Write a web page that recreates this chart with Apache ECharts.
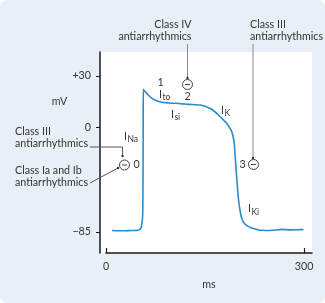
<!DOCTYPE html>
<html>
<head>
<meta charset="utf-8">
<script src="https://cdn.jsdelivr.net/npm/echarts@6/dist/echarts.min.js"></script>
<style>
  html, body { margin: 0; padding: 0; background: #ffffff; }
  #chart { width: 325px; height: 303px; background: #e9eff6; border-radius: 7px; overflow: hidden; }
</style>
</head>
<body>
<div id="chart"></div>
<script>
// ---- data (time in ms, membrane potential in mV) ----
const timeMs = [9, 20, 30, 40, 48, 52, 54, 55.5, 56, 56.3, 56.5, 60, 64, 69, 74.2, 84.4, 95, 104.5, 115, 124.7, 142.4, 150, 157.6, 164, 170.2, 177, 182.9, 187, 190.5, 194, 195.5, 197.7, 200.5, 203, 205.6, 210.6, 218.2, 223.2, 230, 235.9, 248.5, 258, 266.2, 278.8, 290, 299];
const voltageMv = [-84.0, -84.2, -84.1, -84.0, -83.7, -82.8, -79.7, -72, -45, 0, 22.1, 20.5, 18.8, 17.0, 15.9, 14.6, 14.2, 14.0, 13.7, 13.4, 13.0, 12.3, 11.0, 9.4, 7.2, 4.7, 2.3, 0, -3.6, -11.7, -22.6, -38.9, -57.9, -67.5, -74.2, -78.9, -81.3, -82.4, -83.3, -83.8, -84.0, -83.6, -83.0, -83.4, -83.3, -83.2];
const yTickMv = [30, 0, -85];
const yTickLabels = ['+30', '0', '\u221285'];
const xTickMs = [0, 300];
const xTickLabels = ['0', '300'];

// The drawing is schematic: the scale below 0 mV is compressed relative to above 0 mV.
const BELOW_ZERO_FACTOR = 0.7128;
function toAxis(v) { return v >= 0 ? v : v * BELOW_ZERO_FACTOR; }

const seriesData = timeMs.map((t, i) => [t, toAxis(voltageMv[i])]);
const yTickAxis = yTickMv.map(toAxis);

const FONT = 'Lato';
const FS = 10.7;
const TXT = '#333333';
const PTR = '#8a8a8a';

function txt(x, y, s, align, size) {
  return { type: 'text', x: x, y: y, z: 50,
    style: { text: s, fill: TXT, font: (size || FS) + 'px ' + FONT, align: align || 'left', verticalAlign: 'middle' } };
}
function curr(x, y, sub) {
  return [txt(x, y, 'I', 'left', FS), txt(x + 3.4, y + 3, sub, 'left', 8.5)];
}
function blocker(cx, cy) {
  return [
    { type: 'circle', z: 50, shape: { cx: cx, cy: cy, r: 5 }, style: { fill: '#ffffff', stroke: '#444', lineWidth: 1 } },
    { type: 'line', z: 51, shape: { x1: cx - 2.6, y1: cy, x2: cx + 2.6, y2: cy }, style: { stroke: '#444', lineWidth: 1 } }
  ];
}
function dot(x, y) {
  return { type: 'circle', z: 50, shape: { cx: x, cy: y, r: 1.2 }, style: { fill: '#333' } };
}

const chart = echarts.init(document.getElementById('chart'), null, { renderer: 'canvas' });
chart.setOption({
  animation: false,
  textStyle: { fontFamily: FONT },
  grid: { left: 106, right: 13, top: 52, bottom: 50, show: true, backgroundColor: '#ffffff', borderWidth: 0 },
  xAxis: {
    type: 'value', min: 0, max: 312,
    axisLine: { show: true, onZero: false, lineStyle: { color: '#1a1a1a', width: 1.5 } },
    axisTick: { show: true, inside: true, length: 5, customValues: xTickMs, lineStyle: { color: '#1a1a1a', width: 1.2 } },
    axisLabel: { show: true, margin: 8, customValues: xTickMs, color: TXT, fontSize: FS, fontFamily: FONT,
      formatter: v => xTickLabels[xTickMs.indexOf(v)] },
    splitLine: { show: false },
    name: 'ms', nameLocation: 'middle', nameGap: 26,
    nameTextStyle: { color: TXT, fontSize: FS, fontFamily: FONT }
  },
  yAxis: {
    type: 'value', min: -72.9, max: 43.8, offset: 6,
    axisLine: { show: true, onZero: false, lineStyle: { color: '#1a1a1a', width: 1.5 } },
    axisTick: { show: true, inside: false, length: 4, customValues: yTickAxis, lineStyle: { color: '#1a1a1a', width: 1 } },
    axisLabel: { show: true, margin: 9, customValues: yTickAxis, color: TXT, fontSize: FS, fontFamily: FONT,
      padding: [0, 0, 6, 0],
      formatter: v => {
        let best = 0;
        yTickAxis.forEach((a, i) => { if (Math.abs(a - v) < Math.abs(yTickAxis[best] - v)) best = i; });
        return yTickLabels[best];
      } },
    splitLine: { show: false }
  },
  series: [{
    type: 'line', data: seriesData, showSymbol: false, smooth: 0.25,
    lineStyle: { color: '#2a8bcc', width: 1.6 }, z: 5
  }],
  graphic: [].concat(
    [{ type: 'rect', z: 0, shape: { x: 100.8, y: 52, width: 5.7, height: 201 }, style: { fill: '#ffffff' } }],
    [txt(59.5, 101.5, 'mV', 'center')],
    // Class IV (top)
    [txt(191.5, 25, 'Class IV', 'right'), txt(191.5, 37, 'antiarrhythmics', 'right'),
     { type: 'line', z: 40, shape: { x1: 187.5, y1: 44, x2: 187.5, y2: 78 }, style: { stroke: PTR, lineWidth: 1 } },
     dot(187.5, 78)],
    blocker(187.5, 84.5),
    [txt(187.5, 96.5, '2', 'center'), txt(160.5, 83, '1', 'center')],
    curr(159, 94.5, 'to'),
    curr(171, 114.5, 'si'),
    curr(221, 110.5, 'K'),
    // Class III (top right)
    [txt(250, 25, 'Class III', 'left'), txt(250, 37, 'antiarrhythmics', 'left'),
     { type: 'line', z: 40, shape: { x1: 253, y1: 44, x2: 253, y2: 158 }, style: { stroke: PTR, lineWidth: 1 } },
     dot(253, 158)],
    blocker(253.5, 164.5),
    [txt(242.5, 165, '3', 'center')],
    curr(248, 209, 'Ki'),
    // left annotations
    [txt(15, 131.5, 'Class III', 'left'), txt(15, 144, 'antiarrhythmics', 'left'),
     txt(15, 170.5, 'Class Ia and Ib', 'left'), txt(15, 182.5, 'antiarrhythmics', 'left'),
     { type: 'polyline', z: 40, shape: { points: [[90, 147], [122.5, 147], [122.5, 156]] }, style: { stroke: '#555', lineWidth: 1, fill: null } },
     dot(122.5, 156),
     { type: 'line', z: 40, shape: { x1: 90, y1: 183, x2: 118, y2: 168 }, style: { stroke: '#555', lineWidth: 1 } },
     dot(118, 168)],
    blocker(124.5, 165),
    [txt(136.5, 165, '0', 'center')],
    curr(124, 136.5, 'Na')
  )
});
</script>
</body>
</html>
